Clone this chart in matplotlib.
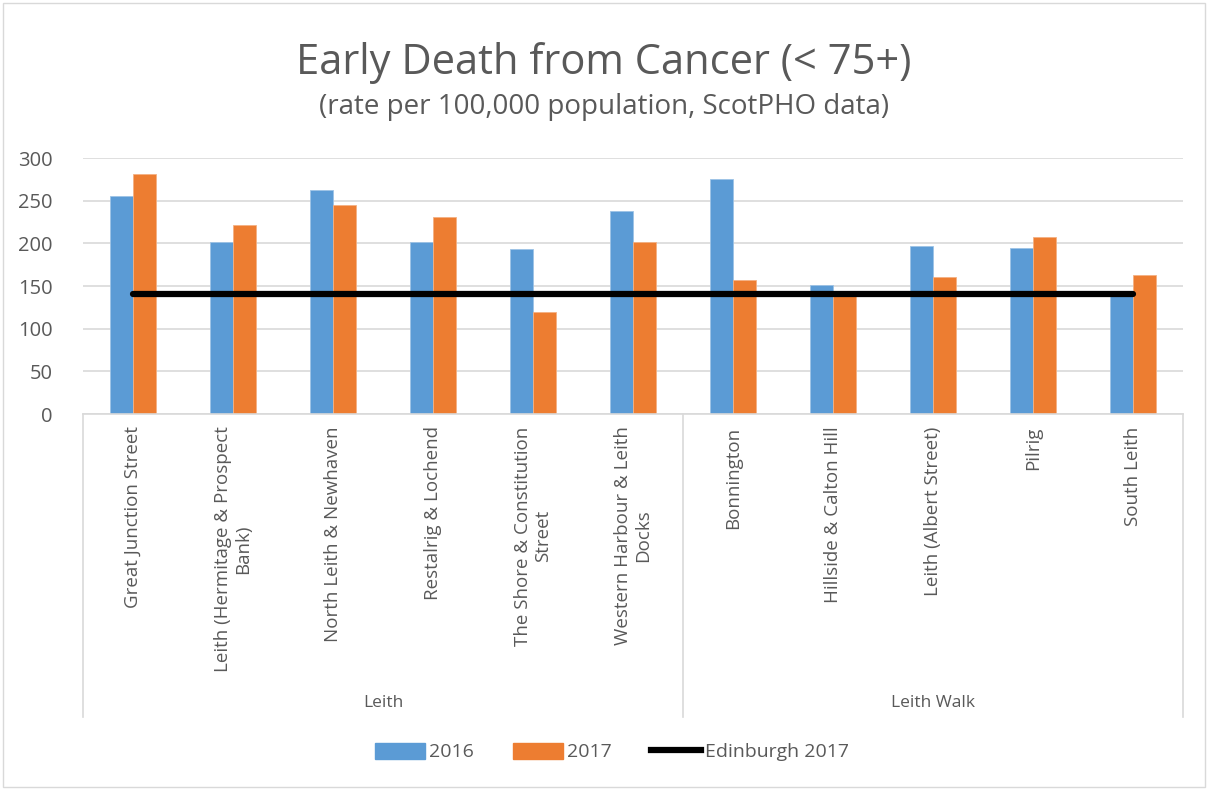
import matplotlib
matplotlib.use("Agg")
import matplotlib.pyplot as plt
from matplotlib.lines import Line2D
from matplotlib.patches import Patch, Rectangle
import numpy as np

plt.rcParams['font.family'] = ['Open Sans', 'DejaVu Sans']

categories = ["Great Junction Street", "Leith (Hermitage & Prospect\nBank)",
              "North Leith & Newhaven", "Restalrig & Lochend",
              "The Shore & Constitution\nStreet", "Western Harbour & Leith\nDocks",
              "Bonnington", "Hillside & Calton Hill", "Leith (Albert Street)",
              "Pilrig", "South Leith"]
groups = ["Leith", "Leith Walk"]
group_sizes = [6, 5]
v2016 = [256, 201, 263, 202, 193, 238, 275, 151, 197, 194, 139]
v2017 = [281, 221, 245, 231, 119, 202, 157, 140, 161, 208, 163]
edinburgh = [141] * 11
yticks = [0, 50, 100, 150, 200, 250, 300]

BLUE = "#5B9BD5"
ORANGE = "#ED7D31"
TXT = "#595959"
GRID = "#D9D9D9"

fig = plt.figure(figsize=(12.08, 7.9), dpi=100)
W, H = 1208, 790
ax = fig.add_axes([83 / W, (H - 414) / H, 1100 / W, 256 / H])

x = np.arange(len(categories))
bw = 0.23
ax.bar(x - bw / 2, v2016, bw, color=BLUE, edgecolor="#9DC3E6", linewidth=0.6, zorder=2, label="2016")
ax.bar(x + bw / 2, v2017, bw, color=ORANGE, edgecolor="#F4B183", linewidth=0.6, zorder=2, label="2017")
ax.plot(x, edinburgh, color="black", linewidth=4.5, solid_capstyle="round", zorder=3, label="Edinburgh 2017")

ax.set_xlim(-0.5, len(categories) - 0.5)
ax.set_ylim(0, 300)
ax.set_yticks(yticks)
ax.set_yticklabels([str(t) for t in yticks], fontsize=14.5, color=TXT)
ax.yaxis.grid(True, color=GRID, linewidth=1.2, zorder=0)
ax.set_axisbelow(True)
for s in ["top", "right", "left"]:
    ax.spines[s].set_visible(False)
ax.spines["bottom"].set_color(GRID)
ax.spines["bottom"].set_linewidth(1.2)
ax.tick_params(axis="y", length=0, pad=22)
ax.tick_params(axis="x", length=0, pad=9)
ax.set_xticks(x)
ax.set_xticklabels(categories, rotation=90, fontsize=13.5, color=TXT, ha="center", va="top",
                   linespacing=1.2)

# multi-level axis separators and group labels
trans = ax.get_xaxis_transform()
y_bot = (414 - 717) / 256
edges = np.concatenate([[0], np.cumsum(group_sizes)]) - 0.5
for e in edges:
    ax.plot([e, e], [0, y_bot], color=GRID, linewidth=1.2, transform=trans, clip_on=False)
for g, a, b in zip(groups, edges[:-1], edges[1:]):
    ax.text((a + b) / 2, (414 - 703) / 256, g, transform=trans, ha="center", va="center",
            fontsize=12.5, color=TXT)

fig.text(0.5, 1 - 63 / H, "Early Death from Cancer (< 75+)", ha="center", va="center",
         fontsize=30, color=TXT)
fig.text(0.5, 1 - 107 / H, "(rate per 100,000 population, ScotPHO data)", ha="center", va="center",
         fontsize=20, color=TXT)

handles = [Patch(color=BLUE), Patch(color=ORANGE), Line2D([0], [0], color="black", linewidth=4.5)]
fig.legend(handles, ["2016", "2017", "Edinburgh 2017"], loc="center", bbox_to_anchor=(612 / W, 1 - 752 / H),
           ncol=3, frameon=False, fontsize=14, labelcolor=TXT, handlelength=2.6, handleheight=0.9,
           handletextpad=0.2, columnspacing=2.0)

fig.patches.append(Rectangle((3 / W, 3 / H), 1 - 6 / W, 1 - 6 / H, transform=fig.transFigure,
                             fill=False, edgecolor=GRID, linewidth=1.0))

fig.savefig("out.png", dpi=100, facecolor="white")
